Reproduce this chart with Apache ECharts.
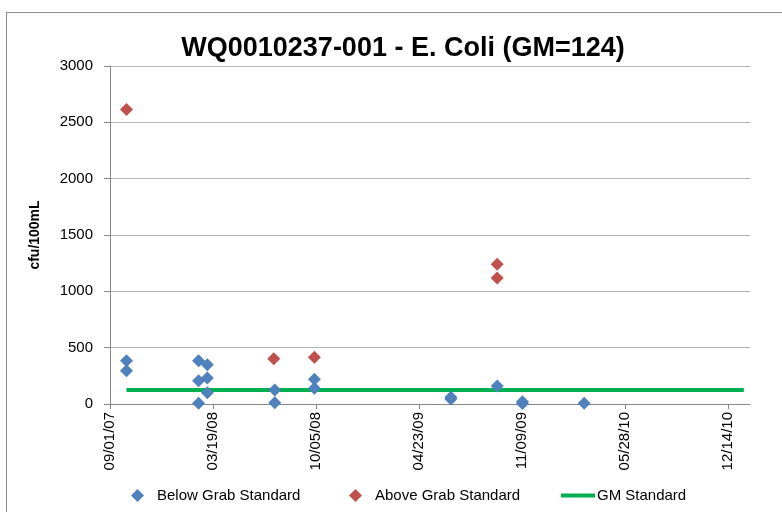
<!DOCTYPE html>
<html>
<head>
<meta charset="utf-8">
<script src="https://cdn.jsdelivr.net/npm/echarts@6/dist/echarts.min.js"></script>
<style>
html,body{margin:0;padding:0;background:#fff;overflow:hidden;}
#frame{position:absolute;left:6px;top:12px;width:800px;height:520px;border:1px solid #8c8c8c;box-sizing:border-box;}
#chart{position:absolute;left:0;top:0;width:782px;height:512px;}
</style>
</head>
<body>
<div id="frame"></div>
<div id="chart"></div>
<script>
// ---- data ----
var titleText = 'WQ0010237-001 - E. Coli (GM=124)';
var yAxisName = 'cfu/100mL';
var startDate = '09/01/07';
var tickStepDays = 200;
var axisEndDays = 1243;

var belowDates  = ['10/03/07','10/03/07','02/20/08','02/20/08','02/20/08','03/08/08','03/08/08','03/08/08','07/17/08','07/17/08','10/02/08','10/02/08','06/24/09','06/24/09','09/22/09','11/10/09','11/10/09','03/10/10'];
var belowValues = [384, 296, 384, 207, 6, 349, 231, 100, 124, 12, 219, 139, 60, 45, 160, 20, 5, 6];

var aboveDates  = ['10/03/07','07/15/08','10/02/08','09/22/09','09/22/09'];
var aboveValues = [2615, 402, 414, 1240, 1118];

var gmDates  = ['10/03/07','01/14/11'];
var gmValues = [124, 124];

// ---- helpers ----
function parseD(s){ var p=s.split('/'); return Date.UTC(2000+ +p[2], +p[0]-1, +p[1]); }
var t0 = parseD(startDate);
function dayOff(s){ return Math.round((parseD(s)-t0)/86400000); }
function fmt(d){
  var dt = new Date(t0 + d*86400000);
  var m = dt.getUTCMonth()+1, dd = dt.getUTCDate(), y = dt.getUTCFullYear()%100;
  function z(n){return (n<10?'0':'')+n;}
  return z(m)+'/'+z(dd)+'/'+z(y);
}
function pairs(ds, vs){ return ds.map(function(d,i){ return [dayOff(d), vs[i]]; }); }

var FONT = 'Liberation Sans';
var chart = echarts.init(document.getElementById('chart'));
chart.setOption({
  animation:false,
  backgroundColor:'transparent',
  title:{ text:titleText, left:398, textAlign:'center', top:30,
    textStyle:{ fontFamily:FONT, fontSize:27, fontWeight:'bold', color:'#000' } },
  grid:{ left:110, right:32, top:66, bottom:108 },
  xAxis:{ type:'value', min:0, max:axisEndDays, interval:tickStepDays,
    axisLine:{ show:true, lineStyle:{ color:'#868686', width:1 } },
    axisTick:{ show:true, length:5, lineStyle:{ color:'#868686' } },
    splitLine:{ show:false },
    axisLabel:{ rotate:90, margin:8, fontFamily:FONT, fontSize:15, color:'#000',
      formatter:function(v){ return v%tickStepDays!==0 ? '' : fmt(v); },
      showMaxLabel:false } },
  yAxis:{ type:'value', min:0, max:3000, interval:500,
    name:yAxisName, nameLocation:'middle', nameGap:68, nameRotate:90,
    nameTextStyle:{ fontFamily:FONT, fontSize:14, fontWeight:'bold', color:'#000' },
    axisLine:{ show:true, lineStyle:{ color:'#868686', width:1 } },
    axisTick:{ show:true, length:6, lineStyle:{ color:'#868686' } },
    splitLine:{ show:true, lineStyle:{ color:'#b3b3b3', width:1 } },
    axisLabel:{ margin:17, fontFamily:FONT, fontSize:15, color:'#000',
      formatter:function(v){ return String(v); } } },
  legend:[
    { data:['Below Grab Standard'], left:126, top:483, itemWidth:13, itemHeight:13, itemGap:0,
      textStyle:{ fontFamily:FONT, fontSize:15, color:'#000', padding:[0,0,0,8] } },
    { data:['Above Grab Standard'], left:344, top:483, itemWidth:13, itemHeight:13, itemGap:0,
      textStyle:{ fontFamily:FONT, fontSize:15, color:'#000', padding:[0,0,0,8] } },
    { data:[{name:'GM Standard', icon:'rect'}], left:556, top:483, itemWidth:34, itemHeight:4, itemGap:0,
      textStyle:{ fontFamily:FONT, fontSize:15, color:'#000', padding:[0,0,0,-3] } }
  ],
  series:[
    { name:'Below Grab Standard', type:'scatter', symbol:'diamond', symbolSize:13,
      itemStyle:{ color:'#4f81bd', opacity:1 }, data:pairs(belowDates, belowValues), z:3 },
    { name:'Above Grab Standard', type:'scatter', symbol:'diamond', symbolSize:13,
      itemStyle:{ color:'#c0504d', opacity:1 }, data:pairs(aboveDates, aboveValues), z:3 },
    { name:'GM Standard', type:'line', symbol:'none', showSymbol:false,
      lineStyle:{ color:'#00b050', width:4 }, itemStyle:{ color:'#00b050' },
      data:pairs(gmDates, gmValues), z:2 }
  ]
});
</script>
</body>
</html>
